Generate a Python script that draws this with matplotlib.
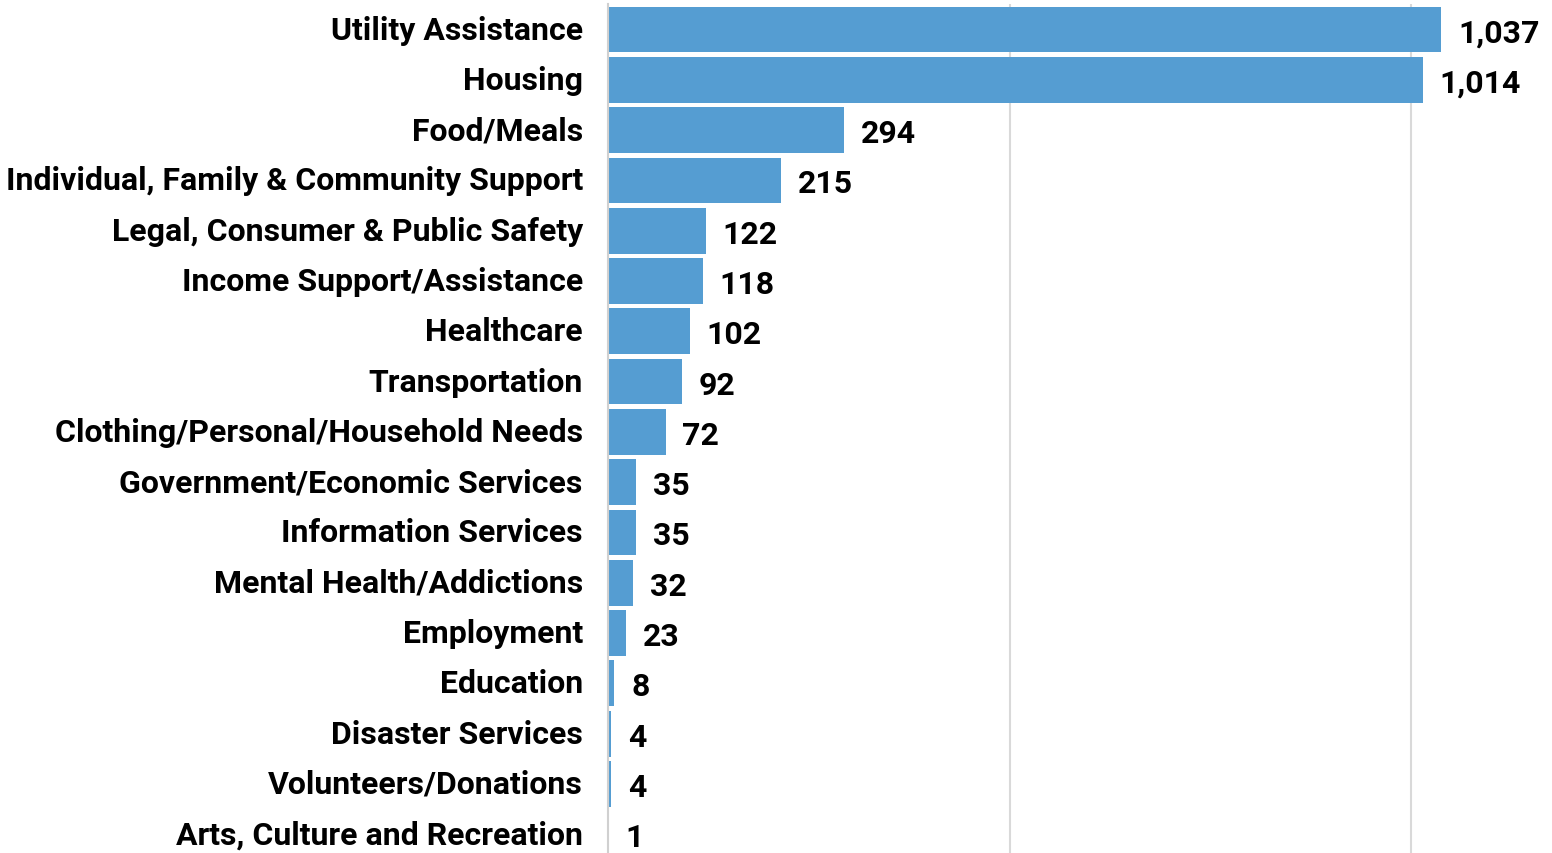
import matplotlib.pyplot as plt

categories = ['Utility Assistance', 'Housing', 'Food/Meals',
              'Individual, Family & Community Support',
              'Legal, Consumer & Public Safety', 'Income Support/Assistance',
              'Healthcare', 'Transportation', 'Clothing/Personal/Household Needs',
              'Government/Economic Services', 'Information Services',
              'Mental Health/Addictions', 'Employment', 'Education',
              'Disaster Services', 'Volunteers/Donations',
              'Arts, Culture and Recreation']
counts = [1037, 1014, 294, 215, 122, 118, 102, 92, 72, 35, 35, 32, 23, 8, 4, 4, 1]

plt.rcParams['font.family'] = ['Roboto', 'DejaVu Sans']
plt.rcParams['font.weight'] = 'bold'

fig = plt.figure(figsize=(15.52, 8.54), dpi=100)
ax = fig.add_axes([0.3916, -0.0075, 1 - 0.3916, 1.0012])

ypos = list(range(len(categories)))
ax.barh(ypos, counts, height=0.91, color='#559dd2', edgecolor='none', zorder=2)

for y, v in zip(ypos, counts):
    ax.text(v + 21, y, f'{v:,}', va='center_baseline', ha='left',
            fontsize=23, fontweight='bold', color='black')

ax.set_yticks(ypos)
ax.set_yticklabels(categories, fontsize=23, fontweight='bold', va='center')
ax.set_ylim(len(categories) - 0.5, -0.5)
ax.set_xlim(0, 1175)
ax.set_xticks([500, 1000])
ax.tick_params(axis='x', length=0, labelbottom=False)
ax.tick_params(axis='y', length=0, pad=18)
ax.grid(axis='x', color='#d9d9d9', linewidth=1.5, zorder=0)
for s in ['top', 'right', 'bottom']:
    ax.spines[s].set_visible(False)
ax.spines['left'].set_color('#d0d0d0')
ax.spines['left'].set_linewidth(1.5)

fig.savefig('out.png', dpi=100)
